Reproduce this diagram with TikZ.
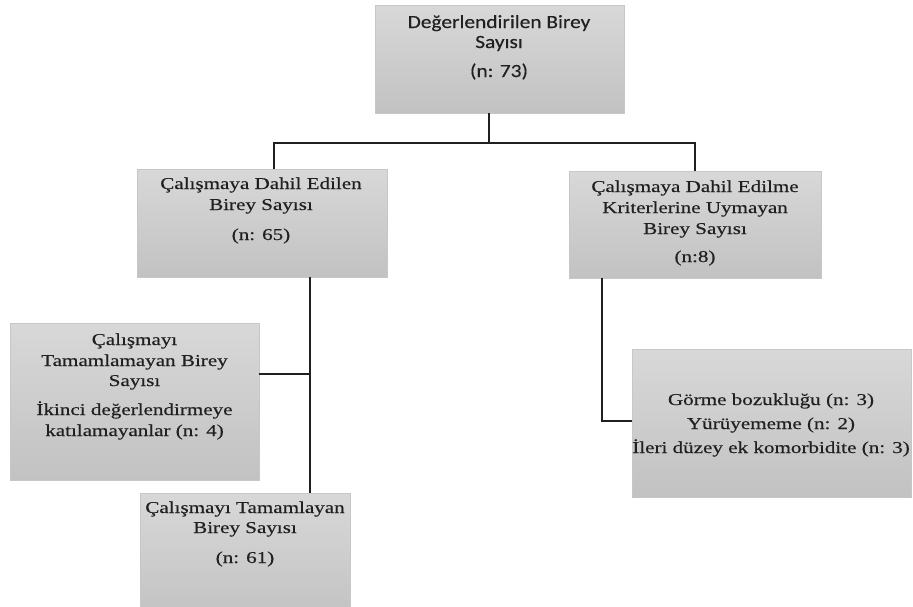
\documentclass[tikz,border=0pt]{standalone}
\usepackage{fontspec}
\setmainfont{Liberation Serif}[FakeStretch=1.27,FakeBold=0.4]
\newfontfamily\calib{Carlito}[FakeStretch=1.15,FakeBold=0.3]
\definecolor{boxtop}{RGB}{216,216,216}
\definecolor{boxbot}{RGB}{194,194,194}
\definecolor{ink}{RGB}{32,32,32}
\begin{document}
\begin{tikzpicture}[x=1pt,y=-1pt,
  box/.style={draw=black!22, line width=0.6pt, top color=boxtop, bottom color=boxbot, inner sep=0pt, outer sep=0pt},
  conn/.style={line width=1.7pt, draw=ink},
  ser/.style={font=\fontsize{16.6}{20}\selectfont, text=ink, inner sep=0pt, anchor=base},
  cal/.style={font=\calib\fontsize{18.6}{20}\selectfont, text=ink, inner sep=0pt, anchor=base}]
\useasboundingbox (0,0) rectangle (913,606);
\fill[white] (0,0) rectangle (913,606);

% boxes
\node[box, minimum width=249pt, minimum height=108pt] (top) at (499.5,59) {};
\node[box, minimum width=250pt, minimum height=108pt] (L) at (262,223) {};
\node[box, minimum width=252pt, minimum height=107pt] (R) at (695,224.5) {};
\node[box, minimum width=249pt, minimum height=157pt] (ML) at (134.5,401.5) {};
\node[box, minimum width=210pt, minimum height=127pt] (B) at (245,556.5) {};
\node[box, minimum width=279pt, minimum height=148pt] (RB) at (771.5,423) {};

% connectors
\coordinate (ja) at (489,143);
\coordinate (jl) at (274,143);
\coordinate (jr) at (695,143);
\draw[conn] (top.south -| ja) -- (ja);
\draw[conn] (L.north -| jl) -- (jl) -- (jr) -- (R.north -| jr);
\coordinate (jb) at (310,374);
\draw[conn] (L.south -| jb) -- (B.north -| jb);
\draw[conn] (ML.east |- jb) -- (jb);
\coordinate (jc) at (602,421);
\draw[conn] (R.south -| jc) -- (jc) -- (RB.west |- jc);

% texts
\node[cal] (t1a) at (499,28) {Değerlendirilen Birey};
\node[cal] (t1b) at (499,48) {Sayısı};
\node[cal] (t1c) at (499,77) {(n: 73)};

\node[ser] (tLa) at (261,189) {Çalışmaya Dahil Edilen};
\node[ser] (tLb) at (261,210) {Birey Sayısı};
\node[ser] (tLc) at (261,240) {(n: 65)};

\node[ser] (tRa) at (695,192) {Çalışmaya Dahil Edilme};
\node[ser] (tRb) at (695,213) {Kriterlerine Uymayan};
\node[ser] (tRc) at (695,234) {Birey Sayısı};
\node[ser] (tRd) at (695,262) {(n:8)};

\node[ser] (tMa) at (134.5,345) {Çalışmayı};
\node[ser] (tMb) at (134.5,366) {Tamamlamayan Birey};
\node[ser] (tMc) at (134.5,386) {Sayısı};
\node[ser] (tMd) at (134.5,415) {İkinci değerlendirmeye};
\node[ser] (tMe) at (134.5,436) {katılamayanlar (n: 4)};

\node[ser] (tBa) at (245,513) {Çalışmayı Tamamlayan};
\node[ser] (tBb) at (245,533) {Birey Sayısı};
\node[ser] (tBc) at (245,563) {(n: 61)};

\node[ser] (tXa) at (771,405) {Görme bozukluğu (n: 3)};
\node[ser] (tXb) at (771,429) {Yürüyememe (n: 2)};
\node[ser] (tXc) at (771,453) {İleri düzey ek komorbidite (n: 3)};
\end{tikzpicture}
\end{document}
